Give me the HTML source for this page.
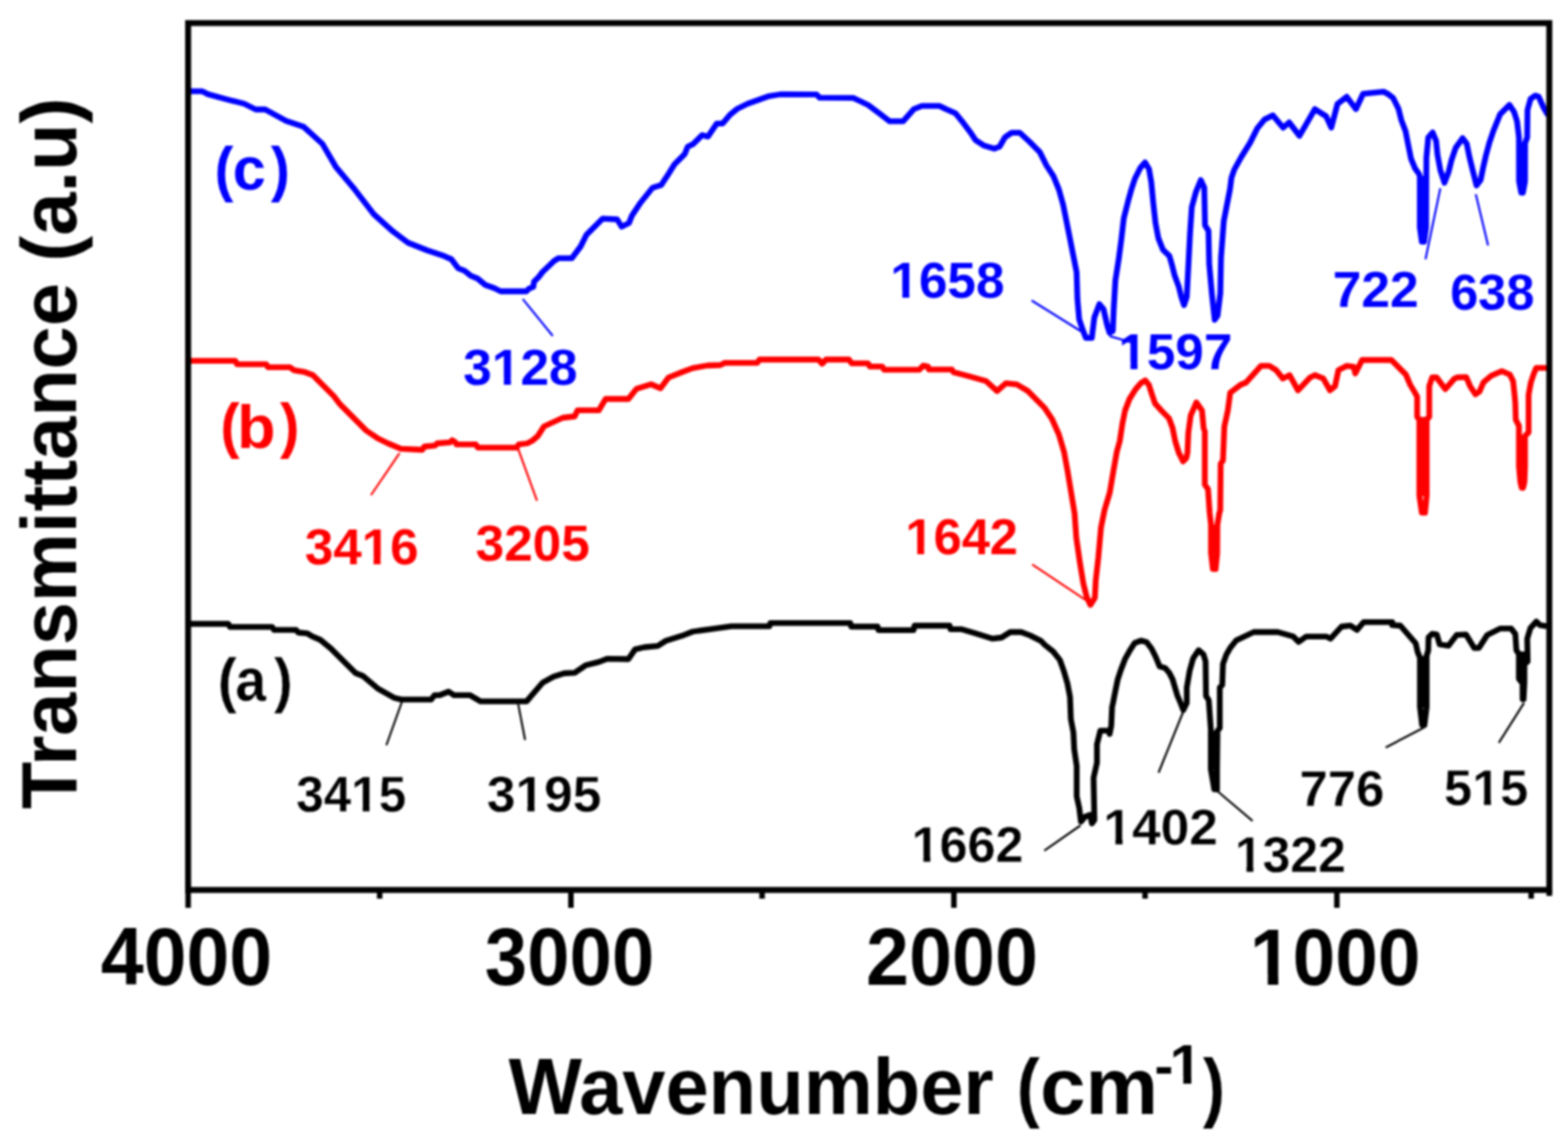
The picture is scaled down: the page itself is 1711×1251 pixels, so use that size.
<!DOCTYPE html>
<html><head><meta charset="utf-8"><title>FTIR spectra</title>
<style>
html,body{margin:0;padding:0;background:#fff;overflow:hidden;}
svg{display:block;}
#wrap{filter:blur(0.8px);}
text{font-family:"Liberation Sans",Arial,sans-serif;}
</style></head><body>
<div id="wrap"><svg width="1711" height="1251" viewBox="0 0 1711 1251">
<rect x="0" y="0" width="1711" height="1251" fill="#fff"/>
<polyline fill="none" stroke="#0000ff" stroke-width="6.3" stroke-linejoin="round" stroke-linecap="butt" points="206.2,99.7 220.8,99.7 227.0,102.9 245.7,108.0 266.5,113.3 279.0,119.5 289.4,119.5 312.3,132.0 331.0,138.2 351.8,157.0 366.3,181.9 387.1,206.8 407.9,233.8 428.7,252.6 445.3,265.0 466.1,273.3 484.8,279.6 492.5,283.0 500.0,292.8 507.0,295.6 514.0,301.2 521.0,304.0 529.5,311.0 539.3,314.5 546.3,318.0 574.3,318.0 577.1,315.2 582.0,313.1 582.7,307.5 587.7,302.6 591.9,297.0 598.2,291.0 604.7,284.8 609.6,281.8 624.0,281.8 633.6,269.0 640.0,256.2 657.5,238.7 673.5,239.5 678.3,247.5 686.3,243.5 689.5,235.5 699.1,221.1 711.9,205.1 721.5,201.9 727.9,192.3 735.9,179.5 747.1,168.3 750.3,160.3 756.6,157.1 766.2,147.5 772.6,149.1 782.2,134.8 788.6,134.8 796.6,125.2 804.6,118.8 815.8,113.2 827.0,109.2 838.2,105.2 851.5,103.0 891.0,103.1 894.5,106.7 931.0,106.9 938.8,110.5 947.5,114.8 959.2,123.6 970.9,132.4 985.5,132.4 997.2,119.2 1006.0,115.6 1025.0,115.6 1032.3,119.2 1042.5,123.6 1049.8,132.4 1058.6,144.1 1064.4,152.8 1073.2,158.7 1084.9,162.3 1090.7,160.1 1096.6,149.9 1103.9,144.8 1112.6,144.8 1122.9,154.3 1134.6,166.0 1141.9,180.6 1149.5,192.3 1155.5,207.0 1160.1,223.5 1163.8,241.9 1167.5,260.3 1171.1,278.7 1174.8,297.1 1175.7,326.5 1177.6,348.5 1181.3,359.6 1184.9,368.8 1191.4,368.8 1194.1,346.7 1199.6,332.0 1204.2,337.5 1207.9,354.0 1210.7,363.2 1214.3,361.4 1215.3,337.5 1217.1,306.3 1220.8,282.4 1223.5,262.1 1226.3,238.2 1230.9,219.9 1234.3,207.6 1238.6,194.6 1244.4,183.1 1249.5,177.3 1253.8,184.5 1256.3,199.0 1258.4,221.0 1260.8,243.0 1264.0,260.0 1268.9,272.4 1276.1,279.6 1279.0,289.7 1281.9,301.2 1286.2,312.7 1289.1,324.3 1292.0,332.9 1295.0,324.0 1296.5,295.0 1298.5,256.0 1300.5,226.0 1305.0,209.5 1310.3,196.6 1314.1,204.9 1314.9,245.9 1318.7,252.0 1319.5,288.4 1322.5,321.7 1325.5,349.1 1328.6,344.5 1331.6,320.2 1332.4,280.8 1335.4,241.3 1339.2,221.6 1342.2,206.4 1343.7,194.3 1346.8,185.2 1354.4,171.5 1364.0,156.0 1372.0,140.0 1380.0,130.3 1389.0,125.9 1400.1,139.3 1406.8,133.7 1418.0,148.2 1434.8,119.1 1447.1,127.0 1452.7,139.3 1459.4,113.6 1469.5,105.7 1479.6,119.1 1487.4,102.4 1509.8,100.1 1514.2,102.4 1520.0,106.7 1526.1,118.9 1529.1,131.0 1533.7,143.2 1536.7,158.4 1539.8,173.6 1544.3,184.2 1548.5,190.0 1549.3,193.0 1549.3,248.0 1551.5,263.8 1554.0,263.8 1556.2,248.0 1556.5,172.0 1558.5,150.0 1563.3,144.7 1567.1,153.8 1568.6,169.0 1571.7,185.7 1576.2,199.4 1580.8,187.3 1583.8,175.1 1588.4,161.4 1596.0,150.8 1600.5,156.9 1603.6,172.1 1606.6,184.2 1611.2,202.5 1615.7,196.4 1618.8,181.2 1621.5,169.5 1625.3,155.4 1629.2,143.9 1636.9,124.8 1647.1,114.5 1652.2,122.2 1655.4,132.4 1657.5,150.0 1657.6,198.0 1660.0,210.3 1661.8,210.3 1664.1,198.0 1664.2,156.0 1666.5,150.0 1666.8,120.0 1670.1,108.1 1675.2,104.3 1679.0,105.6 1684.2,117.1 1689.3,126.0"/>
<polyline fill="none" stroke="#ff0000" stroke-width="6.3" stroke-linejoin="round" stroke-linecap="butt" points="206.2,393.9 256.8,393.9 258.6,397.6 290.5,397.6 292.5,400.9 316.5,400.9 320.6,404.1 332.7,406.2 341.4,409.5 364.2,432.4 370.5,440.7 399.6,470.0 411.7,478.2 423.4,484.0 437.4,489.9 460.8,491.0 463.1,487.5 474.8,486.4 477.1,484.0 491.2,482.9 493.5,480.5 497.0,482.9 498.2,485.2 519.2,485.2 521.6,488.7 563.6,488.7 566.0,485.2 575.3,484.0 581.0,481.0 587.0,475.8 593.6,465.5 614.1,456.0 627.2,454.5 630.1,447.9 653.5,447.9 660.8,435.5 685.7,435.5 694.4,424.6 710.5,419.5 720.7,423.8 729.5,412.1 744.1,406.3 755.8,401.9 771.9,399.0 786.0,398.5 790.9,396.1 826.5,396.0 828.6,392.5 893.0,392.5 897.2,397.0 901.4,392.5 926.3,392.5 929.4,396.6 947.1,396.6 949.2,400.1 962.7,400.1 964.8,403.7 1003.2,403.7 1007.4,399.1 1012.6,400.1 1013.6,403.3 1038.6,403.3 1040.7,406.4 1049.0,408.5 1059.2,411.2 1076.0,416.0 1088.0,426.8 1097.6,418.4 1109.5,419.6 1121.5,426.8 1140.0,445.4 1147.7,456.9 1155.4,474.1 1161.1,493.3 1165.0,514.5 1168.8,537.5 1172.6,560.5 1174.5,587.4 1178.4,614.3 1182.2,637.3 1186.1,652.6 1189.9,660.3 1194.7,652.6 1195.7,633.5 1198.5,608.5 1201.4,575.9 1205.3,556.7 1211.0,537.5 1214.9,514.5 1218.7,493.0 1221.9,481.5 1224.8,462.4 1227.7,448.0 1232.5,435.5 1239.2,424.9 1244.9,418.2 1249.7,415.3 1253.6,420.1 1257.4,431.7 1260.3,440.3 1268.0,448.9 1275.6,456.6 1279.5,467.1 1282.4,481.5 1286.2,494.0 1291.0,503.6 1294.5,500.0 1295.8,493.8 1296.7,472.7 1299.3,453.4 1305.5,439.3 1311.6,448.1 1313.4,467.5 1314.7,471.0 1314.7,529.0 1318.2,534.0 1320.0,560.0 1321.5,573.0 1321.5,604.0 1323.5,621.2 1326.5,621.2 1328.2,604.0 1328.4,573.0 1330.5,560.0 1331.5,557.0 1332.0,506.2 1334.5,502.6 1336.0,465.7 1339.8,448.1 1342.4,428.8 1353.8,420.0 1359.4,417.8 1376.0,399.4 1385.1,399.4 1392.5,404.0 1399.9,413.2 1407.2,409.5 1416.4,426.1 1429.3,412.3 1434.8,409.5 1444.0,413.2 1451.3,426.1 1456.8,421.5 1460.5,404.0 1469.7,399.4 1477.1,400.3 1478.9,407.7 1486.3,393.0 1518.0,392.8 1522.8,397.6 1529.2,404.0 1534.0,408.8 1538.8,420.0 1543.6,428.0 1546.4,433.0 1546.4,455.0 1548.8,458.0 1548.8,541.0 1551.5,559.6 1555.0,559.6 1556.8,541.0 1556.8,458.0 1559.6,455.0 1559.6,421.6 1562.8,412.0 1567.6,412.0 1577.2,424.8 1586.8,413.6 1590.0,412.0 1600.0,411.7 1604.3,421.7 1610.1,430.4 1614.4,427.5 1618.7,417.4 1627.3,410.2 1638.8,405.2 1647.5,408.8 1651.1,416.0 1652.5,429.0 1653.5,440.0 1654.0,458.0 1657.5,465.0 1657.5,509.0 1659.0,526.0 1660.5,532.6 1662.0,532.6 1663.5,526.0 1664.1,509.0 1664.1,476.0 1668.0,472.0 1668.0,431.0 1670.5,417.4 1673.4,408.8 1676.3,401.6 1689.9,401.6"/>
<polyline fill="none" stroke="#000000" stroke-width="6.3" stroke-linejoin="round" stroke-linecap="butt" points="205.8,681.0 249.0,681.0 251.0,684.3 297.0,684.3 299.0,687.6 323.0,687.6 325.5,690.5 335.0,691.3 340.0,694.3 349.6,698.5 361.1,708.0 388.0,734.8 395.7,737.7 412.9,752.1 430.2,761.7 437.9,763.6 470.5,763.6 474.3,758.8 480.0,758.8 489.6,755.0 495.3,758.8 512.6,758.8 524.1,765.5 574.6,765.6 592.1,745.2 603.8,738.7 615.5,735.0 627.2,734.3 638.9,726.3 653.5,722.6 662.3,719.2 685.7,719.5 693.0,708.9 703.2,706.5 717.8,705.1 726.6,699.5 744.1,694.1 755.8,689.5 774.8,686.8 798.2,683.7 839.6,683.7 840.6,680.1 927.9,680.1 928.8,684.0 957.6,684.0 958.5,687.8 996.9,687.8 997.9,683.0 1036.2,683.0 1037.2,686.9 1049.6,686.9 1064.0,691.2 1083.2,697.2 1092.8,696.0 1102.4,690.0 1114.3,690.0 1123.9,693.6 1135.9,699.6 1140.0,703.9 1149.2,711.3 1156.5,720.4 1161.1,733.3 1164.8,746.2 1167.6,760.9 1168.5,784.8 1171.3,799.5 1172.2,817.9 1174.9,836.3 1174.9,869.3 1177.7,882.2 1179.5,896.9 1184.1,891.4 1189.6,889.6 1191.5,898.8 1194.2,895.1 1193.3,849.1 1197.0,832.6 1197.0,812.4 1200.7,797.6 1209.9,797.6 1210.8,801.3 1212.6,792.1 1213.5,771.9 1214.4,767.9 1217.0,754.7 1219.7,741.5 1223.2,731.0 1227.6,719.6 1232.9,709.9 1238.1,702.0 1245.2,699.3 1251.3,701.1 1256.6,708.1 1261.0,716.9 1265.4,727.5 1271.5,729.2 1275.9,734.5 1279.5,741.5 1282.1,750.3 1284.7,759.1 1288.2,767.4 1291.2,775.0 1295.0,767.4 1295.0,750.7 1298.1,732.5 1301.9,718.8 1307.9,709.7 1313.2,714.3 1315.5,721.9 1316.0,759.8 1319.0,764.4 1321.3,797.0 1321.3,840.0 1325.0,861.7 1328.0,861.7 1328.0,840.0 1328.5,798.0 1331.0,794.7 1331.0,750.7 1333.7,747.7 1334.5,724.9 1338.3,714.3 1342.8,706.7 1348.9,699.1 1368.0,690.0 1394.3,690.0 1411.1,694.8 1417.1,700.8 1425.5,694.8 1447.1,694.8 1451.9,697.2 1463.9,684.0 1473.5,682.8 1480.7,687.6 1487.9,679.2 1519.2,679.2 1519.2,682.4 1528.1,683.0 1544.8,702.2 1547.0,712.0 1549.5,718.0 1549.5,772.0 1551.8,791.5 1554.3,791.5 1556.7,772.0 1556.7,716.0 1558.5,710.0 1558.8,695.8 1562.7,692.0 1567.8,692.6 1571.0,703.5 1580.6,704.8 1589.5,693.2 1599.7,692.6 1608.7,707.3 1613.8,707.3 1622.8,693.2 1636.8,686.2 1649.0,686.2 1653.5,692.0 1654.7,709.9 1657.5,714.0 1657.5,741.0 1661.4,746.0 1661.5,763.3 1662.5,763.3 1663.4,746.0 1663.4,725.0 1667.0,722.0 1666.5,697.1 1670.0,685.6 1676.5,678.5 1680.3,682.4 1688.0,683.7"/>
<rect x="1547.0" y="192.0" width="11.5" height="57.0" fill="#0000ff"/>
<rect x="1655.0" y="155.4" width="11.8" height="44.1" fill="#0000ff"/>
<rect x="1546.5" y="455.2" width="12.8" height="86.4" fill="#ff0000"/>
<rect x="1655.0" y="475.0" width="11.8" height="34.5" fill="#ff0000"/>
<rect x="1318.8" y="573.0" width="12.1" height="31.6" fill="#ff0000"/>
<rect x="1318.6" y="797.7" width="12.1" height="42.5" fill="#000000"/>
<rect x="1546.8" y="716.3" width="12.6" height="56.2" fill="#000000"/>
<rect x="1654.8" y="711.2" width="11.3" height="30.6" fill="#000000"/>
<polyline fill="none" stroke="#0000ff" stroke-width="2.2" points="570.4,326.4 603.2,366.7"/>
<polyline fill="none" stroke="#0000ff" stroke-width="2.2" points="1125.7,328.0 1182.2,363.2"/>
<polyline fill="none" stroke="#0000ff" stroke-width="2.2" points="1210.7,366.9 1236.4,374.3"/>
<polyline fill="none" stroke="#0000ff" stroke-width="2.2" points="1555.5,283.0 1571.7,205.5"/>
<polyline fill="none" stroke="#0000ff" stroke-width="2.2" points="1610.4,212.0 1623.8,267.9"/>
<polyline fill="none" stroke="#ff0000" stroke-width="2.2" points="436.0,494.7 404.8,540.5"/>
<polyline fill="none" stroke="#ff0000" stroke-width="2.2" points="565.2,489.5 586.0,546.7"/>
<polyline fill="none" stroke="#ff0000" stroke-width="2.2" points="1126.3,616.2 1184.1,654.6"/>
<polyline fill="none" stroke="#000000" stroke-width="2.2" points="438.8,765.5 421.6,813.5"/>
<polyline fill="none" stroke="#000000" stroke-width="2.2" points="565.4,768.4 573.0,807.7"/>
<polyline fill="none" stroke="#000000" stroke-width="2.2" points="1139.5,928.6 1179.1,901.0"/>
<polyline fill="none" stroke="#000000" stroke-width="2.2" points="1264.2,843.5 1291.5,776.0"/>
<polyline fill="none" stroke="#000000" stroke-width="2.2" points="1327.7,863.0 1366.8,896.2"/>
<polyline fill="none" stroke="#000000" stroke-width="2.2" points="1512.1,816.0 1553.7,794.3"/>
<polyline fill="none" stroke="#000000" stroke-width="2.2" points="1635.5,810.9 1663.0,767.4"/>
<rect x="205.3" y="25.2" width="1485.3" height="946.3" fill="none" stroke="#000" stroke-width="6.5"/>
<line x1="205.3" y1="971" x2="205.3" y2="991" stroke="#000" stroke-width="6"/>
<line x1="623.0" y1="971" x2="623.0" y2="991" stroke="#000" stroke-width="6"/>
<line x1="1040.9" y1="971" x2="1040.9" y2="991" stroke="#000" stroke-width="6"/>
<line x1="1458.8" y1="971" x2="1458.8" y2="991" stroke="#000" stroke-width="6"/>
<line x1="414.3" y1="971" x2="414.3" y2="981" stroke="#000" stroke-width="6"/>
<line x1="831.6" y1="971" x2="831.6" y2="981" stroke="#000" stroke-width="6"/>
<line x1="1249.5" y1="971" x2="1249.5" y2="981" stroke="#000" stroke-width="6"/>
<line x1="1670.8" y1="971" x2="1670.8" y2="981" stroke="#000" stroke-width="6"/>
<line x1="1690.6" y1="971" x2="1690.6" y2="978" stroke="#000" stroke-width="6.2"/>
<text transform="translate(109.94,1075.02) scale(0.9529,1)" font-size="88.31" font-weight="bold" fill="#000">4000</text>
<text transform="translate(529.12,1075.01) scale(0.9360,1)" font-size="88.73" font-weight="bold" fill="#000">3000</text>
<text transform="translate(945.05,1075.01) scale(0.9503,1)" font-size="88.73" font-weight="bold" fill="#000">2000</text>
<text transform="translate(1363.86,1075.02) scale(0.9521,1)" font-size="87.89" font-weight="bold" fill="#000">1000</text>
<text transform="translate(555.00,1215.80) scale(0.9826,1)" font-size="86.30" font-weight="bold" fill="#000">Wavenumber</text>
<text transform="translate(1109.45,1214.76) scale(0.8979,1)" font-size="83.53" font-weight="bold" fill="#000">(</text>
<text transform="translate(1135.04,1215.80) scale(1.0316,1)" font-size="86.30" font-weight="bold" fill="#000">cm</text>
<text transform="translate(1259.82,1183.85) scale(1.0327,1)" font-size="60.00" font-weight="bold" fill="#000">-</text>
<text transform="translate(1276.33,1183.20) scale(1.0410,1)" font-size="61.34" font-weight="bold" fill="#000">1</text>
<text transform="translate(1312.84,1214.76) scale(0.8594,1)" font-size="83.53" font-weight="bold" fill="#000">)</text>
<text transform="translate(82.99,883.15) rotate(-90) scale(0.9986,1)" font-size="84.81" font-weight="bold" fill="#000">Transmittance (a.u)</text>
<text transform="translate(234.33,206.92) scale(0.9160,1)" font-size="67.06" font-weight="bold" fill="#0000ff">(</text>
<text transform="translate(253.91,207.24) scale(0.9837,1)" font-size="65.82" font-weight="bold" fill="#0000ff">c</text>
<text transform="translate(295.59,206.92) scale(0.9320,1)" font-size="67.06" font-weight="bold" fill="#0000ff">)</text>
<text transform="translate(240.56,487.44) scale(0.9525,1)" font-size="65.99" font-weight="bold" fill="#ff0000">(</text>
<text transform="translate(258.75,488.83) scale(1.0215,1)" font-size="67.07" font-weight="bold" fill="#ff0000">b</text>
<text transform="translate(305.48,487.44) scale(0.9688,1)" font-size="65.99" font-weight="bold" fill="#ff0000">)</text>
<text transform="translate(237.49,765.21) scale(0.9457,1)" font-size="66.84" font-weight="bold" fill="#000000" stroke="#fff" stroke-width="0.50" stroke-linejoin="round">(</text>
<text transform="translate(256.73,765.48) scale(0.9076,1)" font-size="66.73" font-weight="bold" fill="#000000" stroke="#fff" stroke-width="0.50" stroke-linejoin="round">a</text>
<text transform="translate(298.84,765.21) scale(0.9297,1)" font-size="66.84" font-weight="bold" fill="#000000" stroke="#fff" stroke-width="0.50" stroke-linejoin="round">)</text>
<text transform="translate(505.60,419.56) scale(1.0226,1)" font-size="54.80" font-weight="bold" fill="#0000ff">3128</text>
<text transform="translate(971.56,324.56) scale(1.0212,1)" font-size="54.80" font-weight="bold" fill="#0000ff">1658</text>
<text transform="translate(1220.57,402.91) scale(1.0181,1)" font-size="54.80" font-weight="bold" fill="#0000ff">1597</text>
<text transform="translate(1454.17,334.73) scale(1.0267,1)" font-size="54.80" font-weight="bold" fill="#0000ff">722</text>
<text transform="translate(1582.47,337.91) scale(1.0048,1)" font-size="54.80" font-weight="bold" fill="#0000ff">638</text>
<text transform="translate(332.71,615.56) scale(1.0165,1)" font-size="54.80" font-weight="bold" fill="#ff0000">3416</text>
<text transform="translate(519.10,612.36) scale(1.0211,1)" font-size="54.80" font-weight="bold" fill="#ff0000">3205</text>
<text transform="translate(988.01,604.91) scale(1.0071,1)" font-size="54.80" font-weight="bold" fill="#ff0000">1642</text>
<text transform="translate(323.18,885.61) scale(0.9846,1)" font-size="54.80" font-weight="bold" fill="#000000" stroke="#fff" stroke-width="0.35" stroke-linejoin="round">3415</text>
<text transform="translate(531.22,885.61) scale(1.0248,1)" font-size="54.80" font-weight="bold" fill="#000000" stroke="#fff" stroke-width="0.35" stroke-linejoin="round">3195</text>
<text transform="translate(994.86,941.36) scale(0.9998,1)" font-size="54.80" font-weight="bold" fill="#000000" stroke="#fff" stroke-width="0.35" stroke-linejoin="round">1662</text>
<text transform="translate(1204.07,922.31) scale(1.0247,1)" font-size="54.80" font-weight="bold" fill="#000000" stroke="#fff" stroke-width="0.35" stroke-linejoin="round">1402</text>
<text transform="translate(1347.49,952.31) scale(0.9938,1)" font-size="54.80" font-weight="bold" fill="#000000" stroke="#fff" stroke-width="0.35" stroke-linejoin="round">1322</text>
<text transform="translate(1418.03,879.76) scale(1.0114,1)" font-size="54.80" font-weight="bold" fill="#000000" stroke="#fff" stroke-width="0.35" stroke-linejoin="round">776</text>
<text transform="translate(1575.87,879.23) scale(1.0048,1)" font-size="54.80" font-weight="bold" fill="#000000" stroke="#fff" stroke-width="0.35" stroke-linejoin="round">515</text>
<rect x="1367.31" y="1064.45" width="16.09" height="11.97" fill="#fff"/>
<rect x="1394.87" y="1064.45" width="15.02" height="11.97" fill="#fff"/>
<rect x="1278.82" y="1175.34" width="12.42" height="9.26" fill="#fff"/>
<rect x="1300.00" y="1175.34" width="11.61" height="9.26" fill="#fff"/>
<rect x="538.87" y="412.36" width="10.97" height="8.59" fill="#fff"/>
<rect x="557.53" y="412.36" width="10.26" height="8.59" fill="#fff"/>
<rect x="973.67" y="317.36" width="10.96" height="8.59" fill="#fff"/>
<rect x="992.30" y="317.36" width="10.25" height="8.59" fill="#fff"/>
<rect x="1222.67" y="395.71" width="10.92" height="8.59" fill="#fff"/>
<rect x="1241.25" y="395.71" width="10.22" height="8.59" fill="#fff"/>
<rect x="396.76" y="608.36" width="10.91" height="8.59" fill="#fff"/>
<rect x="415.31" y="608.36" width="10.20" height="8.59" fill="#fff"/>
<rect x="990.08" y="597.71" width="10.81" height="8.59" fill="#fff"/>
<rect x="1008.47" y="597.71" width="10.11" height="8.59" fill="#fff"/>
<rect x="385.20" y="878.41" width="10.58" height="8.59" fill="#fff"/>
<rect x="403.19" y="878.41" width="9.90" height="8.59" fill="#fff"/>
<rect x="564.57" y="878.41" width="10.99" height="8.59" fill="#fff"/>
<rect x="583.27" y="878.41" width="10.28" height="8.59" fill="#fff"/>
<rect x="996.91" y="934.16" width="10.74" height="8.59" fill="#fff"/>
<rect x="1015.17" y="934.16" width="10.04" height="8.59" fill="#fff"/>
<rect x="1206.19" y="915.11" width="10.99" height="8.59" fill="#fff"/>
<rect x="1224.89" y="915.11" width="10.28" height="8.59" fill="#fff"/>
<rect x="1349.52" y="945.11" width="10.68" height="8.59" fill="#fff"/>
<rect x="1367.67" y="945.11" width="9.99" height="8.59" fill="#fff"/>
<rect x="1608.56" y="872.04" width="10.79" height="8.59" fill="#fff"/>
<rect x="1626.90" y="872.04" width="10.09" height="8.59" fill="#fff"/>
</svg></div>
</body></html>
